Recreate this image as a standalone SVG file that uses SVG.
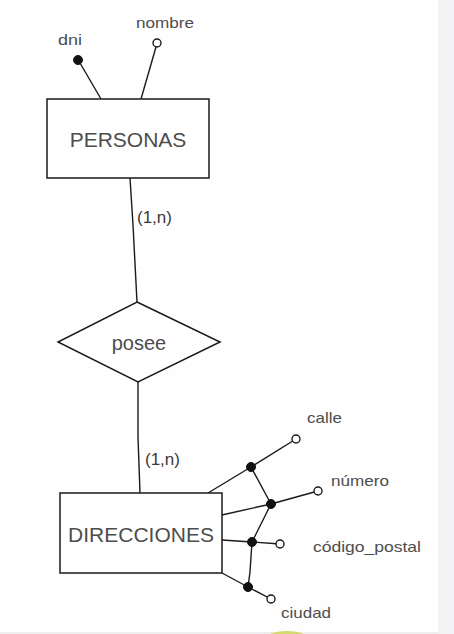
<svg xmlns="http://www.w3.org/2000/svg" width="454" height="634" viewBox="0 0 454 634">
<style>
.ln{fill:none;stroke:#1a1a1a;stroke-width:1.4}
.ent{fill:#ffffff;stroke:#1a1a1a;stroke-width:1.5}
.big{font-family:"Liberation Sans",Arial,sans-serif;font-size:21px;fill:#4d4d4d}
.rel{font-family:"Liberation Sans",Arial,sans-serif;font-size:20px;fill:#4d4d4d}
.card{font-family:"Liberation Sans",Arial,sans-serif;font-size:17px;fill:#3a3a3a}
.att{font-family:"Liberation Sans",Arial,sans-serif;font-size:15px;fill:#4d4d4d}
.dot{fill:#111111;stroke:#111111;stroke-width:1}
.opn{fill:#ffffff;stroke:#1a1a1a;stroke-width:1.4}
</style>
<rect x="0" y="0" width="454" height="634" fill="#fefefe"/>
<rect x="438" y="0" width="16" height="634" fill="#f3f3f5"/>
<rect x="0" y="632" width="438" height="2" fill="#eeeeee"/>
<ellipse cx="287" cy="640" rx="23" ry="9" fill="#d6d96c"/>

<g id="connectors">
  <line class="ln" x1="80" y1="63" x2="101" y2="99"/>
  <line class="ln" x1="156" y1="47" x2="141" y2="99"/>
  <polyline class="ln" points="130,178 133,225 137,302"/>
  <polyline class="ln" points="138,382 138,437 140,493"/>
  <polyline class="ln" points="208,493 251,467 296,439"/>
  <line class="ln" x1="251" y1="467" x2="271" y2="504"/>
  <polyline class="ln" points="222,515 271,504 318,491"/>
  <line class="ln" x1="271" y1="504" x2="252" y2="542"/>
  <polyline class="ln" points="222,540 252,542 280,544"/>
  <polyline class="ln" points="252,542 250,572 248,587"/>
  <polyline class="ln" points="222,573 248,587 271,599"/>
  <text class="card" x="137" y="223">(1,n)</text>
  <text class="card" x="145" y="465">(1,n)</text>
</g>

<g id="personas">
  <rect class="ent" x="47" y="99" width="162" height="79"/>
  <text class="big" x="128" y="147" text-anchor="middle">PERSONAS</text>
</g>

<g id="posee">
  <polygon class="ent" points="137,302 220,342 138,382 58,342"/>
  <text class="rel" x="139" y="350" text-anchor="middle">posee</text>
</g>

<g id="direcciones">
  <rect class="ent" x="60" y="493" width="162" height="80"/>
  <text class="big" x="141" y="542" text-anchor="middle">DIRECCIONES</text>
</g>

<g id="attr-dni">
  <circle class="dot" cx="78" cy="60" r="4.5"/>
  <text class="att" x="58" y="45" textLength="24" lengthAdjust="spacingAndGlyphs">dni</text>
</g>
<g id="attr-nombre">
  <circle class="opn" cx="157" cy="43" r="4"/>
  <text class="att" x="136" y="28" textLength="58" lengthAdjust="spacingAndGlyphs">nombre</text>
</g>
<g id="attr-calle">
  <circle class="dot" cx="251" cy="467" r="4.5"/>
  <circle class="opn" cx="296" cy="439" r="4"/>
  <text class="att" x="307" y="423" textLength="35" lengthAdjust="spacingAndGlyphs">calle</text>
</g>
<g id="attr-numero">
  <circle class="dot" cx="271" cy="504" r="4.5"/>
  <circle class="opn" cx="318" cy="491" r="4"/>
  <text class="att" x="331" y="486" textLength="58" lengthAdjust="spacingAndGlyphs">número</text>
</g>
<g id="attr-codigo-postal">
  <circle class="dot" cx="252" cy="542" r="4.5"/>
  <circle class="opn" cx="280" cy="544" r="4"/>
  <text class="att" x="313" y="552" textLength="108" lengthAdjust="spacingAndGlyphs">código_postal</text>
</g>
<g id="attr-ciudad">
  <circle class="dot" cx="248" cy="587" r="4.5"/>
  <circle class="opn" cx="271" cy="599" r="4"/>
  <text class="att" x="281" y="618" textLength="50" lengthAdjust="spacingAndGlyphs">ciudad</text>
</g>
</svg>
